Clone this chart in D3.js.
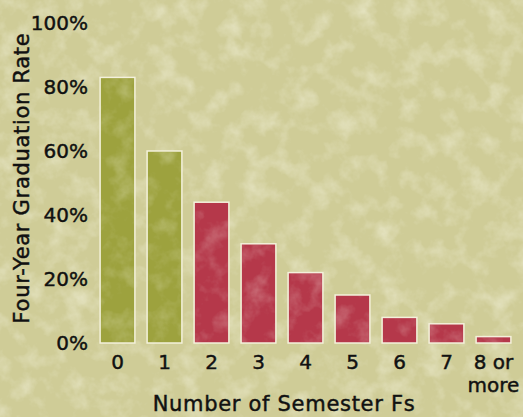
<!DOCTYPE html>
<html>
<head>
<meta charset="utf-8">
<script src="https://cdn.jsdelivr.net/npm/d3@7"></script>
<style>
  html, body { margin: 0; padding: 0; background: #cfcc97; }
  svg { display: block; font-family: "DejaVu Sans", sans-serif; }
  svg text { stroke: #111; stroke-width: 0.45px; }
</style>
</head>
<body>
<div id="chart"></div>
<script>
// data
const categories = ["0", "1", "2", "3", "4", "5", "6", "7", "8 or more"];
const rates = [83, 60, 44, 31, 22, 15, 8, 6, 2];
const passing = [true, true, false, false, false, false, false, false, false];
const yTicks = [0, 20, 40, 60, 80, 100];

const width = 523;
const height = 417;
const font = "'DejaVu Sans', sans-serif";

const svg = d3.select("#chart").append("svg")
    .attr("width", width)
    .attr("height", height);

// mottled paper texture
const defs = svg.append("defs");
const f = defs.append("filter").attr("id", "mottle")
    .attr("x", 0).attr("y", 0).attr("width", "100%").attr("height", "100%");
f.append("feTurbulence")
    .attr("type", "fractalNoise")
    .attr("baseFrequency", 0.045)
    .attr("numOctaves", 4)
    .attr("seed", 7)
    .attr("result", "noise");
f.append("feColorMatrix")
    .attr("in", "noise")
    .attr("type", "matrix")
    .attr("values", "0 0 0 0 1  0 0 0 0 1  0 0 0 0 0.9  1.8 0 0 0 -0.82");

svg.append("rect")
    .attr("width", width).attr("height", height)
    .attr("fill", "#cfcc97");
svg.append("rect")
    .attr("width", width).attr("height", height)
    .attr("filter", "url(#mottle)")
    .attr("opacity", 0.5);

const x = d3.scaleBand()
    .domain(categories)
    .range([94, 517])
    .paddingInner(0.26)
    .paddingOuter(0.13);

const y = d3.scaleLinear()
    .domain([0, 100])
    .range([343, 23]);

// bars
svg.append("g").selectAll("rect.bar")
    .data(rates)
    .enter()
    .append("rect")
    .attr("class", "bar")
    .attr("x", (d, i) => x(categories[i]))
    .attr("y", d => y(d))
    .attr("width", x.bandwidth())
    .attr("height", d => y(0) - y(d))
    .attr("fill", (d, i) => passing[i] ? "#9da23e" : "#b5384a")
    .attr("stroke", "#f4f1dc")
    .attr("stroke-width", 1.5);

// light speckle on the bars
const clip = defs.append("clipPath").attr("id", "barclip");
clip.selectAll("rect")
    .data(rates)
    .enter()
    .append("rect")
    .attr("x", (d, i) => x(categories[i]) + 1)
    .attr("y", d => y(d) + 1)
    .attr("width", x.bandwidth() - 2)
    .attr("height", d => y(0) - y(d) - 2);
svg.append("rect")
    .attr("width", width).attr("height", height)
    .attr("filter", "url(#mottle)")
    .attr("clip-path", "url(#barclip)")
    .attr("opacity", 0.35);

// y axis
const yAxis = svg.append("g")
    .attr("transform", "translate(90,0)")
    .call(d3.axisLeft(y).tickValues(yTicks).tickSize(0).tickPadding(2)
        .tickFormat(d => d + "%"));
yAxis.select(".domain").remove();
yAxis.selectAll("text")
    .attr("fill", "#111")
    .style("font-size", "20px")
    .style("font-family", font);

// x axis
const xAxis = svg.append("g")
    .attr("transform", "translate(0,343)")
    .call(d3.axisBottom(x).tickSize(0).tickFormat(""));
xAxis.select(".domain").remove();
xAxis.selectAll(".tick").each(function(d) {
    const t = d3.select(this).append("text")
        .attr("fill", "#111")
        .attr("text-anchor", "middle")
        .style("font-size", "20px")
        .style("font-family", font);
    const lines = d === "8 or more" ? ["8 or", "more"] : [d];
    lines.forEach((s, k) => {
        t.append("tspan").attr("x", 0).attr("y", 26 + k * 23).text(s);
    });
});

// axis titles
svg.append("text")
    .attr("x", 284)
    .attr("y", 411)
    .attr("text-anchor", "middle")
    .attr("fill", "#111")
    .style("font-size", "21px")
    .style("letter-spacing", "0.7px")
    .style("font-family", font)
    .text("Number of Semester Fs");

svg.append("text")
    .attr("transform", "translate(29,178) rotate(-90)")
    .attr("text-anchor", "middle")
    .attr("fill", "#111")
    .style("font-size", "21px")
    .style("letter-spacing", "0.7px")
    .style("font-family", font)
    .text("Four-Year Graduation Rate");
</script>
</body>
</html>
